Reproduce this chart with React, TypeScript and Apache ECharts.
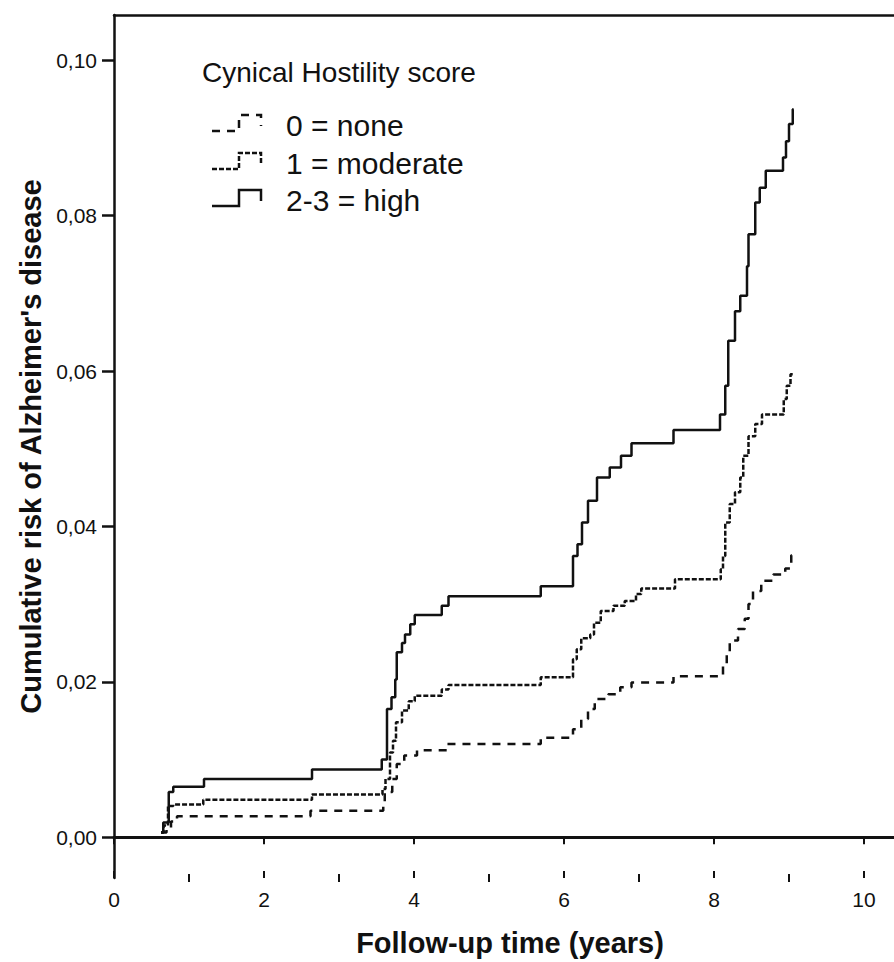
import React, { useEffect, useRef } from "react";
import * as echarts from "echarts";

// Follow-up time (years) and cumulative risk, per Cynical Hostility group
const noneX = [0.627, 0.70, 0.76, 0.84, 2.62, 3.59, 3.61, 3.71, 3.77, 3.87, 4.04, 4.44, 5.69, 6.12, 6.23, 6.32, 6.41, 6.59, 6.75, 6.90, 7.46, 8.12, 8.17, 8.21, 8.32, 8.41, 8.46, 8.52, 8.63, 8.79, 8.95, 9.03, 9.05];
const noneY = [0.0006, 0.0012, 0.0020, 0.0027, 0.0034, 0.0040, 0.0058, 0.0075, 0.0094, 0.0105, 0.0112, 0.0120, 0.0128, 0.0139, 0.0152, 0.0165, 0.0178, 0.0184, 0.0193, 0.0199, 0.0207, 0.0220, 0.0236, 0.0253, 0.0268, 0.0281, 0.0300, 0.0317, 0.0330, 0.0338, 0.0346, 0.0363, 0.0363];

const moderateX = [0.627, 0.66, 0.72, 0.79, 1.19, 2.64, 3.58, 3.62, 3.68, 3.72, 3.76, 3.84, 3.93, 4.01, 4.37, 4.46, 5.69, 6.12, 6.17, 6.23, 6.35, 6.40, 6.49, 6.66, 6.81, 6.96, 7.03, 7.48, 8.09, 8.12, 8.15, 8.21, 8.28, 8.35, 8.39, 8.46, 8.55, 8.64, 8.93, 8.97, 9.02, 9.05];
const moderateY = [0.0006, 0.0015, 0.0040, 0.0042, 0.0048, 0.0055, 0.0062, 0.0075, 0.0109, 0.0124, 0.0148, 0.0163, 0.0175, 0.0182, 0.0190, 0.0196, 0.0206, 0.0229, 0.0242, 0.0256, 0.0261, 0.0276, 0.0291, 0.0298, 0.0304, 0.0313, 0.0320, 0.0332, 0.0345, 0.0362, 0.0405, 0.0429, 0.0444, 0.0463, 0.0491, 0.0516, 0.0532, 0.0544, 0.0564, 0.0581, 0.0596, 0.0596];

const highX = [0.627, 0.657, 0.73, 0.79, 1.20, 2.64, 3.57, 3.64, 3.70, 3.75, 3.77, 3.84, 3.88, 3.95, 4.01, 4.37, 4.46, 5.69, 6.12, 6.18, 6.24, 6.32, 6.44, 6.61, 6.76, 6.90, 7.46, 8.08, 8.15, 8.19, 8.28, 8.35, 8.44, 8.46, 8.55, 8.61, 8.69, 8.92, 8.96, 9.00, 9.05, 9.06];
const highY = [0.0006, 0.0019, 0.0058, 0.0065, 0.0075, 0.0087, 0.0100, 0.0165, 0.0180, 0.0203, 0.0238, 0.0250, 0.0261, 0.0274, 0.0286, 0.0298, 0.0310, 0.0323, 0.0362, 0.0377, 0.0405, 0.0433, 0.0463, 0.0476, 0.0491, 0.0507, 0.0524, 0.0544, 0.0581, 0.0639, 0.0677, 0.0697, 0.0735, 0.0776, 0.0817, 0.0836, 0.0858, 0.0875, 0.0896, 0.0918, 0.0937, 0.0937];

const yTickValues = [0, 0.02, 0.04, 0.06, 0.08, 0.1];
const xMajorTicks = [0, 2, 4, 6, 8, 10];
const xMinorTicks = [1, 3, 5, 7, 9];

const legendTitle = "Cynical Hostility score";
const legendLabels = ["0 = none", "1 = moderate", "2-3 = high"];

const FONT = "'Liberation Sans', Arial, Helvetica, sans-serif";
const INK = "#111111";

function zip(xs: number[], ys: number[]) {
  return xs.map((x, i) => [x, ys[i]]);
}

const X_MAX = 10.4;

function tickAxis(values: number[], inside: boolean, length: number) {
  return {
    type: "value",
    min: 0,
    max: X_MAX,
    position: "bottom",
    axisLine: { show: false },
    axisTick: { show: true, length, inside, customValues: values, lineStyle: { color: INK, width: 2 } },
    axisLabel: { show: false },
    splitLine: { show: false },
  };
}

export default function App() {
  const ref = useRef<HTMLDivElement>(null);

  useEffect(() => {
    document.body.style.margin = "0";
    if (!ref.current) return;
    const chart = echarts.init(ref.current, null, { renderer: "svg" });

    const rowY = [127, 165, 202];
    const dashes: (number[] | null)[] = [[8, 7], [5, 2], null];
    const legendGraphics: any[] = [
      {
        type: "text",
        left: 202,
        top: 74 - 16,
        style: { text: legendTitle, fontSize: 28, fontFamily: FONT, fill: INK },
      },
    ];
    legendLabels.forEach((lab, i) => {
      const c = rowY[i];
      legendGraphics.push({
        type: "polyline",
        shape: {
          points: [
            [212, c + 4],
            [239, c + 4],
            [239, c - 12],
            [261, c - 12],
            [261, c - 1],
          ],
        },
        style: {
          stroke: INK,
          lineWidth: 2.5,
          fill: null,
          lineDash: dashes[i] || undefined,
        },
      });
      legendGraphics.push({
        type: "text",
        left: 286,
        top: c - 17,
        style: { text: lab, fontSize: 30, fontFamily: FONT, fill: INK },
      });
    });

    const lineSeries = (name: string, data: number[][], dash: any, z: number) => ({
      name,
      type: "line",
      step: "end",
      data,
      showSymbol: false,
      symbol: "none",
      z,
      lineStyle: { color: INK, width: 2.5, type: dash },
    });

    chart.setOption({
      animation: false,
      backgroundColor: "#ffffff",
      grid: { left: 114, right: 0, top: 15, bottom: 81, containLabel: false },
      xAxis: [
        {
          type: "value",
          min: 0,
          max: X_MAX,
          position: "bottom",
          name: "Follow-up time (years)",
          nameLocation: "middle",
          nameGap: 50,
          nameTextStyle: { fontSize: 29, fontWeight: "bold", fontFamily: FONT, color: INK, padding: [0, 0, 0, 12] },
          axisLine: { show: true, lineStyle: { color: INK, width: 3 } },
          axisTick: { show: true, length: 7, inside: false, customValues: xMajorTicks, lineStyle: { color: INK, width: 2 } },
          axisLabel: {
            customValues: xMajorTicks,
            margin: 11,
            fontSize: 21,
            fontFamily: FONT,
            color: INK,
            formatter: (v: number) => String(v),
          },
          splitLine: { show: false },
        },
        tickAxis(xMajorTicks, true, 7),
        tickAxis(xMinorTicks, true, 4),
        tickAxis(xMinorTicks, false, 4),
        {
          type: "value",
          min: 0,
          max: X_MAX,
          position: "top",
          axisLine: { show: true, lineStyle: { color: INK, width: 2.5 } },
          axisTick: { show: false },
          axisLabel: { show: false },
          splitLine: { show: false },
        },
      ],
      yAxis: {
        type: "value",
        min: -0.00526,
        max: 0.10584,
        name: "Cumulative risk of Alzheimer's disease",
        nameLocation: "middle",
        nameGap: 66,
        nameTextStyle: { fontSize: 29, fontWeight: "bold", fontFamily: FONT, color: INK },
        axisLine: { show: true, lineStyle: { color: INK, width: 2.5 } },
        axisTick: { show: true, length: 12, customValues: yTickValues, lineStyle: { color: INK, width: 2.5 } },
        axisLabel: {
          customValues: yTickValues,
          margin: 17,
          fontSize: 21,
          fontFamily: FONT,
          color: INK,
          formatter: (v: number) => v.toFixed(2).replace(".", ","),
        },
        splitLine: { show: false },
      },
      graphic: legendGraphics,
      series: [
        lineSeries("0 = none", zip(noneX, noneY), [8, 7], 3),
        lineSeries("1 = moderate", zip(moderateX, moderateY), [5, 2], 4),
        lineSeries("2-3 = high", zip(highX, highY), "solid", 5),
      ],
    });

    return () => chart.dispose();
  }, []);

  return <div ref={ref} style={{ width: 894, height: 962 }} />;
}
